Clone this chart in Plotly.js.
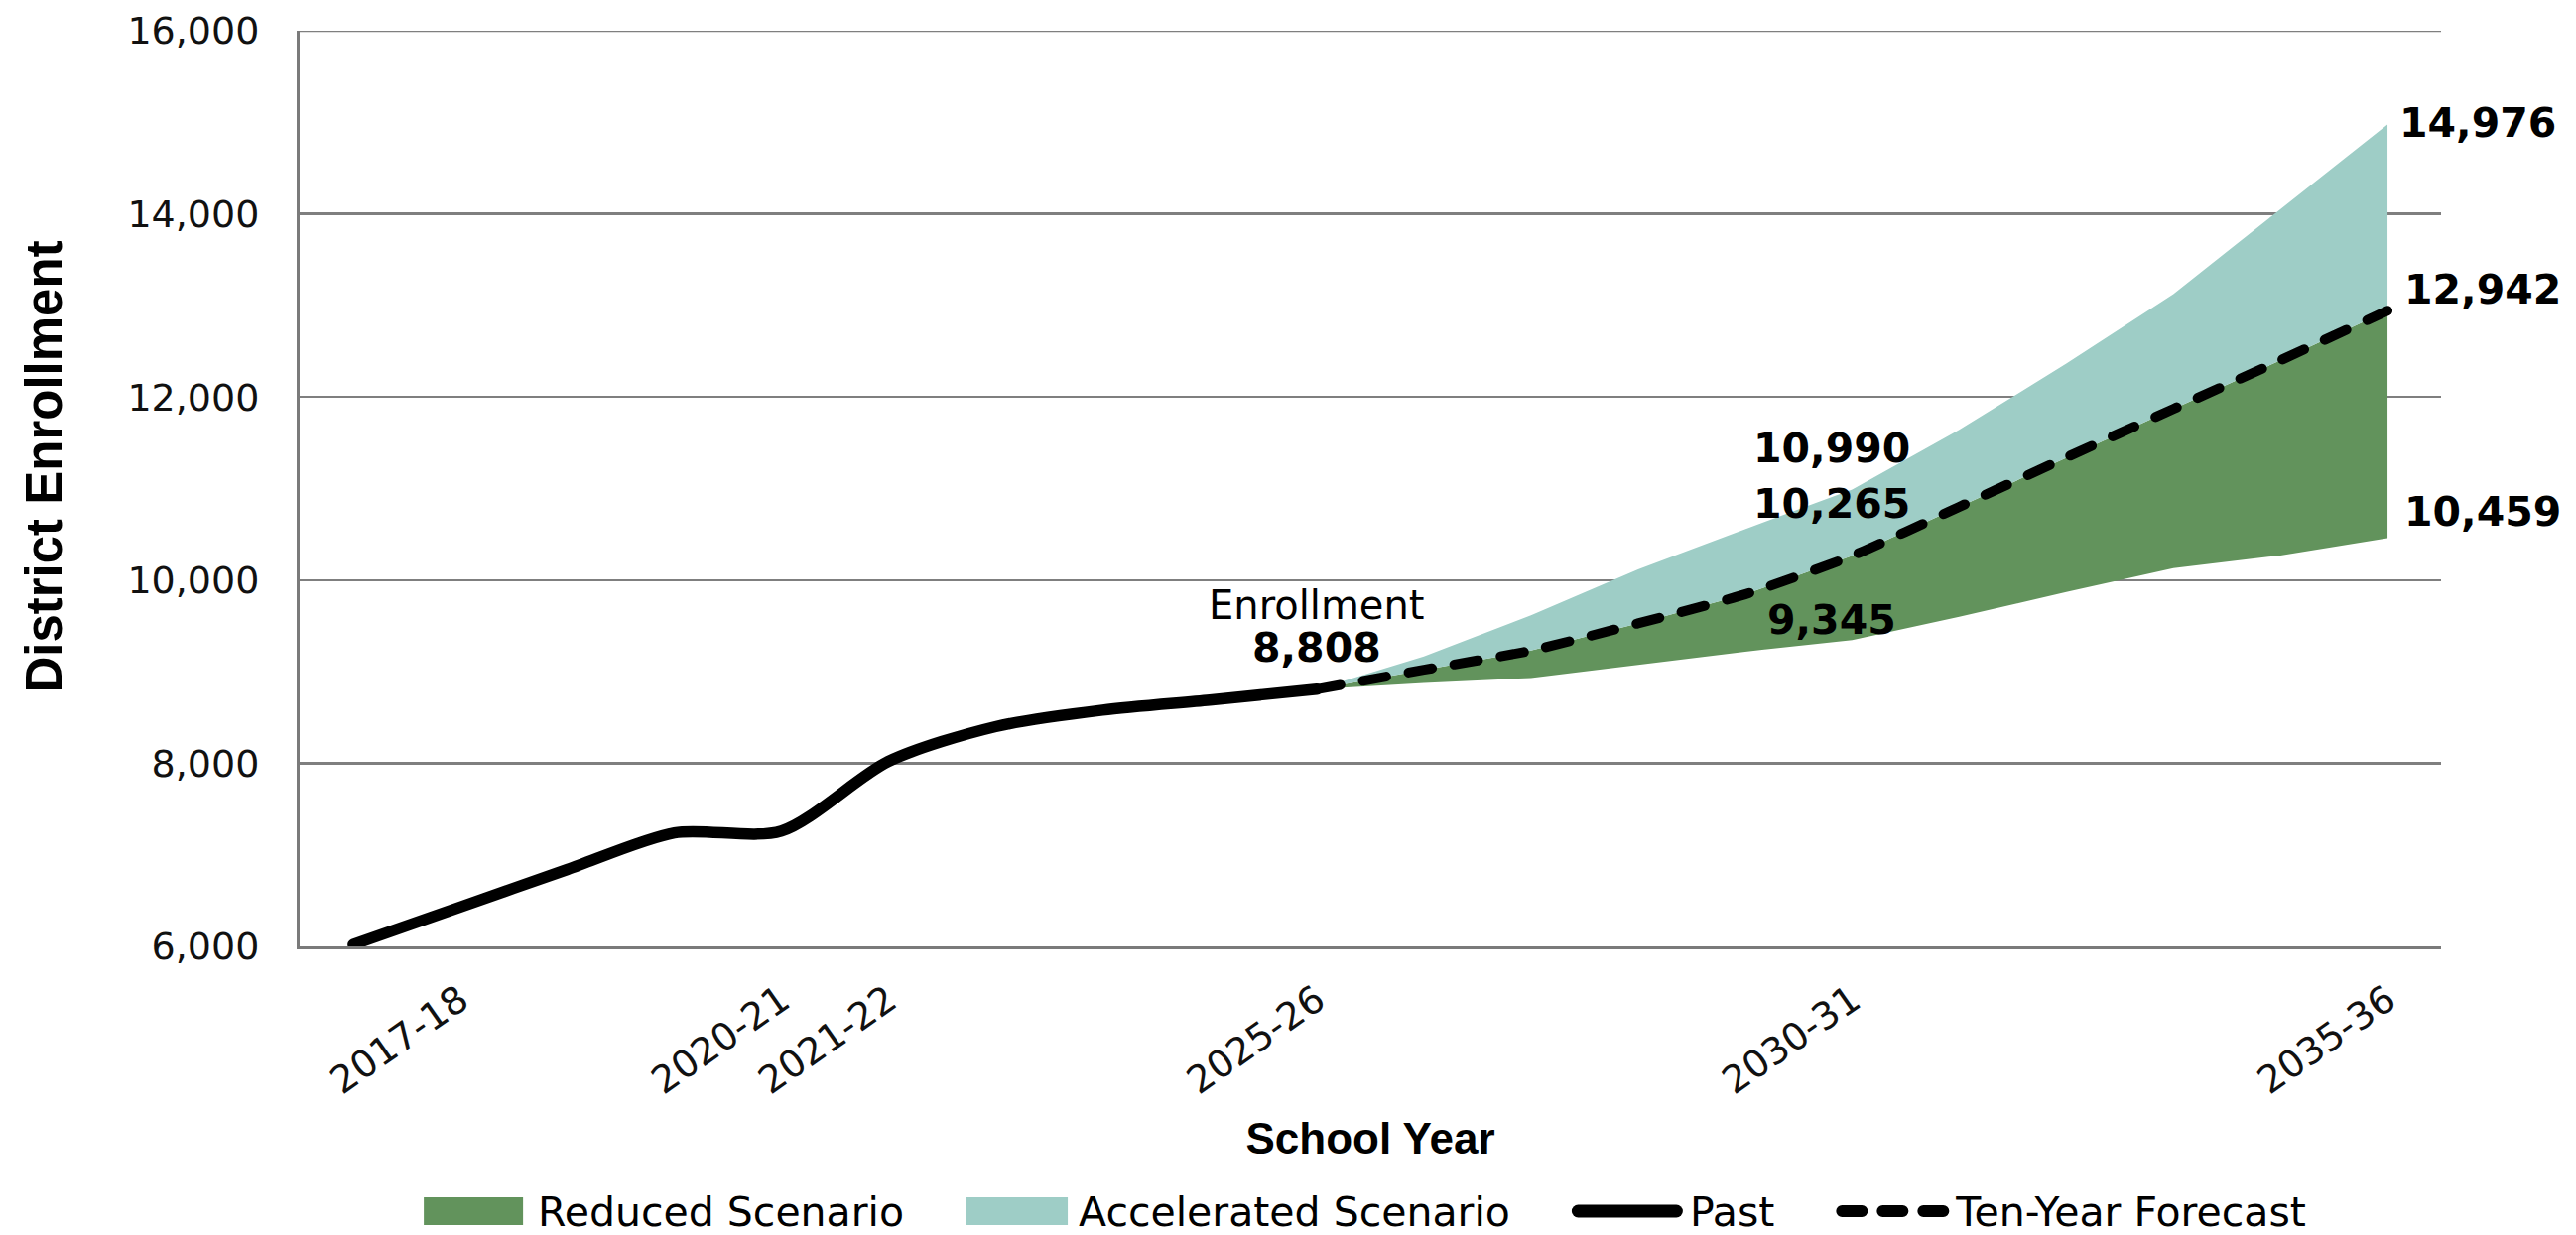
<!DOCTYPE html>
<html>
<head>
<meta charset="utf-8">
<script src="https://cdn.plot.ly/plotly-3.0.1.min.js"></script>
<style>
  html, body { margin: 0; padding: 0; background: #fff; }
  #chart { width: 2596px; height: 1245px; }
  .scatterlayer .js-line, .legend .js-line { stroke-linecap: round !important; }
</style>
</head>
<body>
<div id="chart"></div>
<script>
// School years on the category axis (one per enrollment year)
const schoolYears = [
  '2016-17', '2017-18', '2018-19', '2019-20', '2020-21', '2021-22', '2022-23',
  '2023-24', '2024-25', '2025-26', '2026-27', '2027-28', '2028-29', '2029-30',
  '2030-31', '2031-32', '2032-33', '2033-34', '2034-35', '2035-36'
];
// Years that carry a tick label
const labeledYears = ['2017-18', '2020-21', '2021-22', '2025-26', '2030-31', '2035-36'];

// Historical enrollment, 2016-17 through 2025-26
const pastEnrollment = [6020, 6430, 6840, 7240, 7260, 8020, 8400, 8580, 8690, 8808];

// Projections, 2025-26 through 2035-36
const forecastYears = schoolYears.slice(9);
const forecastEnrollment = [8808, 9021, 9230, 9527, 9845, 10265, 10800, 11340, 11870, 12400, 12942];
const reducedScenario = [8808, 8876, 8931, 9075, 9219, 9345, 9600, 9870, 10130, 10270, 10459];
const acceleratedScenario = [8808, 9165, 9617, 10116, 10557, 10990, 11642, 12364, 13124, 14046, 14976];

const GREEN = '#62935c';
const TEAL = '#9ecdc6';
const GRID = '#7f7f7f';
const FONT = 'DejaVu Sans, Liberation Sans, sans-serif';
const TITLE_FONT = 'Liberation Sans, Arial, sans-serif';

const idx = y => schoolYears.indexOf(y);
const pastX = schoolYears.slice(0, pastEnrollment.length).map(idx);
const fcX = forecastYears.map(idx);
const fmt = v => v.toLocaleString('en-US');

const traces = [
  { // lower bound of the scenario band
    x: fcX, y: reducedScenario, type: 'scatter', mode: 'lines',
    line: { width: 0, color: GREEN }, showlegend: false, hoverinfo: 'skip'
  },
  {
    x: fcX, y: forecastEnrollment, type: 'scatter', mode: 'lines',
    name: 'Reduced Scenario', fill: 'tonexty', fillcolor: GREEN,
    line: { width: 0, color: GREEN }
  },
  {
    x: fcX, y: acceleratedScenario, type: 'scatter', mode: 'lines',
    name: 'Accelerated Scenario', fill: 'tonexty', fillcolor: TEAL,
    line: { width: 0, color: TEAL }
  },
  {
    x: pastX, y: pastEnrollment, type: 'scatter', mode: 'lines',
    name: 'Past', line: { color: '#000', width: 11.5, shape: 'spline', smoothing: 0.8 }
  },
  {
    x: fcX, y: forecastEnrollment, type: 'scatter', mode: 'lines',
    name: 'Ten-Year Forecast',
    line: { color: '#000', width: 10, dash: '24px,23px', shape: 'spline', smoothing: 0.6 }
  }
];

const i30 = idx('2030-31');
const i35 = idx('2035-36');
const i25 = idx('2025-26');
const k30 = forecastYears.indexOf('2030-31');
const k35 = forecastYears.indexOf('2035-36');
const lastPast = pastEnrollment[pastEnrollment.length - 1];

const bold = { family: FONT, size: 41, color: '#000', weight: 'bold' };
const annotations = [
  { x: i25, y: lastPast, text: 'Enrollment', yshift: 85,
    font: { family: FONT, size: 40, color: '#000' } },
  { x: i25, y: lastPast, text: fmt(lastPast), yshift: 42, font: bold },
  { x: i30, y: acceleratedScenario[k30], text: fmt(acceleratedScenario[k30]), xshift: -21, yshift: 41, font: bold },
  { x: i30, y: forecastEnrollment[k30], text: fmt(forecastEnrollment[k30]), xshift: -21, yshift: 52, font: bold },
  { x: i30, y: reducedScenario[k30], text: fmt(reducedScenario[k30]), xshift: -21, yshift: 20, font: bold },
  { x: i35, y: acceleratedScenario[k35], text: fmt(acceleratedScenario[k35]), xanchor: 'left', xshift: 10, yshift: 2, font: bold },
  { x: i35, y: forecastEnrollment[k35], text: fmt(forecastEnrollment[k35]), xanchor: 'left', xshift: 15, yshift: 21, font: bold },
  { x: i35, y: reducedScenario[k35], text: fmt(reducedScenario[k35]), xanchor: 'left', xshift: 15, yshift: 26, font: bold }
].map(a => Object.assign({ xref: 'x', yref: 'y', showarrow: false, yanchor: 'middle' }, a));

const layout = {
  width: 2596, height: 1245,
  margin: { l: 302, r: 136, t: 31, b: 291 },
  paper_bgcolor: '#fff', plot_bgcolor: '#fff',
  font: { family: FONT, color: '#111' },
  showlegend: true,
  legend: {
    orientation: 'h', xref: 'container', yref: 'container',
    x: 0.532, xanchor: 'center', y: 0.03, yanchor: 'middle',
    font: { family: FONT, size: 41, color: '#000' },
    itemwidth: 100, traceorder: 'normal'
  },
  xaxis: {
    range: [-0.5, schoolYears.length - 0.5],
    tickmode: 'array', tickvals: labeledYears.map(idx), ticktext: labeledYears,
    tickangle: -35, ticks: '', ticklabelstandoff: 14,
    tickfont: { family: FONT, size: 38, color: '#111' },
    showgrid: false, zeroline: false,
    showline: true, linecolor: '#7a7a7a', linewidth: 3,
    title: { text: 'School Year', standoff: 22,
      font: { family: TITLE_FONT, size: 44, color: '#000', weight: 'bold' } }
  },
  yaxis: {
    range: [6000, 16000], dtick: 2000, tickformat: ',d',
    ticks: '', ticklabelstandoff: 30,
    tickfont: { family: FONT, size: 38, color: '#111' },
    showgrid: true, gridcolor: GRID, gridwidth: 2.5,
    zeroline: false, showline: true, linecolor: '#7a7a7a', linewidth: 3,
    title: { text: 'District Enrollment', standoff: 50,
      font: { family: TITLE_FONT, size: 51, color: '#000', weight: 'bold' } }
  },
  shapes: [
    // gridline along the top of the value range
    { type: 'line', xref: 'paper', x0: 0, x1: 1, yref: 'y', y0: 16000, y1: 16000,
      line: { color: GRID, width: 2.5 }, layer: 'below' }
  ],
  annotations: annotations
};

// Legend key styling: wide colour blocks for the scenarios, long strokes for the lines
const legendKeys = [
  { kind: 'box', color: GREEN, w: 100, gap: 15 },
  { kind: 'box', color: TEAL, w: 103, gap: 11 },
  { kind: 'line', width: 13, w: 112, gap: 7 },
  { kind: 'dash', width: 12, w: 115, gap: 6 }
];
const ITEM_GAP = 62, LEGEND_CX = 1376, LEGEND_CY = 1221, TEXT_BASELINE = 15;

function styleLegend(gd) {
  const box = gd.querySelector('.legend .scrollbox');
  if (box) box.removeAttribute('clip-path');
  const items = Array.from(gd.querySelectorAll('.legend .traces'));
  const texts = items.map(g => g.querySelector('text.legendtext'));
  const tw = texts.map(t => t.getBBox().width);
  const total = legendKeys.reduce((s, k) => s + k.w + k.gap, 0) +
    tw.reduce((s, w) => s + w, 0) + ITEM_GAP * (items.length - 1);
  let x = LEGEND_CX - total / 2;
  items.forEach((g, i) => {
    const key = legendKeys[i];
    const ctm = g.parentNode.getScreenCTM();
    g.setAttribute('transform', `translate(${x - ctm.e},${LEGEND_CY - ctm.f})`);
    const t = texts[i];
    t.setAttribute('x', key.w + key.gap);
    t.setAttribute('y', TEXT_BASELINE);
    t.querySelectorAll('tspan').forEach(s => { if (s.hasAttribute('x')) s.setAttribute('x', key.w + key.gap); });
    g.querySelectorAll('.legendfill path').forEach(p => p.setAttribute('d', 'M0,0'));
    const line = g.querySelector('.legendlines path');
    if (line) {
      if (key.kind === 'box') {
        line.setAttribute('d', `M0,-14h${key.w}v28h-${key.w}z`);
        line.style.fill = key.color;
        line.style.stroke = 'none';
      } else {
        const cap = key.width / 2;
        line.setAttribute('d', `M${cap},0H${key.w - cap}`);
        line.style.stroke = '#000';
        line.style.strokeWidth = key.width + 'px';
        line.style.strokeDasharray = key.kind === 'dash' ? '20px,21px' : 'none';
      }
    }
    x += key.w + key.gap + tw[i] + ITEM_GAP;
  });
  // y title sits slightly above the plot's vertical centre
  const yt = gd.querySelector('.g-ytitle');
  if (yt) yt.setAttribute('transform', 'translate(0,-22)');
}

const gd = document.getElementById('chart');
Plotly.newPlot(gd, traces, layout, { staticPlot: true, displayModeBar: false })
  .then(() => styleLegend(gd));
</script>
</body>
</html>
